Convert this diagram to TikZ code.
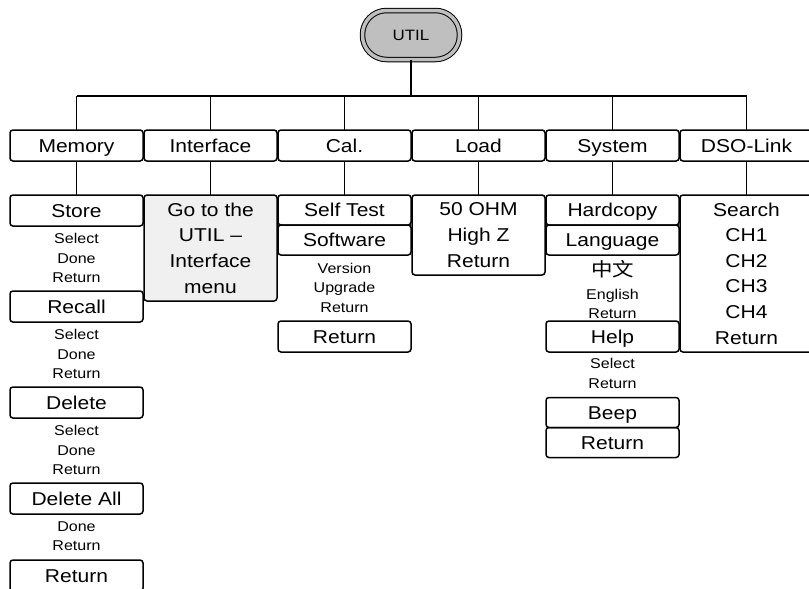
\documentclass[tikz,border=0pt]{standalone}
\usepackage{fontspec}
\setmainfont[FakeStretch=1.13]{Liberation Sans}
\newfontfamily\cjk[FakeStretch=1.13]{Noto Sans CJK SC}
\usetikzlibrary{positioning}

\begin{document}
\begin{tikzpicture}[
  x=1pt, y=-1pt,
  font=\fontsize{18.6}{25.6}\selectfont,
  util/.style={rectangle, rounded corners=24pt, draw, line width=1pt,
               double=gray!50, double distance=3.5pt, fill=gray!50,
               minimum width=97pt, minimum height=49pt,
               font=\fontsize{15}{18}\selectfont},
  panel/.style={rectangle, rounded corners=3pt, draw, line width=1.5pt,
                minimum width=133pt, minimum height=31pt, align=center,
                inner sep=0pt, outer sep=0pt},
  menu/.style={panel, text height=13.3pt, text depth=0pt},
  note/.style={align=center, inner sep=0pt,
               font=\fontsize{14.2}{19.5}\selectfont},
  link/.style={line width=1.6pt}
]
\useasboundingbox (0,0) rectangle (809,589);

\node[util] (util) at (411,35) {UTIL};
\coordinate (busL) at (76.5,96);
\coordinate (busR) at (746.5,96);

% first level
\node[menu] (memory)    at (76.5,145.5)  {Memory};
\node[menu] (interface) at (210.5,145.5) {Interface};
\node[menu] (cal)       at (344.5,145.5) {Cal.};
\node[menu] (load)      at (478.5,145.5) {Load};
\node[menu] (system)    at (612.5,145.5) {System};
\node[menu] (dsolink)   at (746.5,145.5) {DSO-Link};

% Memory
\node[menu] (store)        at (76.5,210.5) {Store};
\node[note] (storeopt)     at (76.5,258)   {Select\\Done\\Return};
\node[menu] (recall)       at (76.5,306.5) {Recall};
\node[note] (recallopt)    at (76.5,354)   {Select\\Done\\Return};
\node[menu] (delete)       at (76.5,402.5) {Delete};
\node[note] (deleteopt)    at (76.5,450)   {Select\\Done\\Return};
\node[menu] (deleteall)    at (76.5,498.5) {Delete All};
\node[note] (deleteallopt) at (76.5,536)   {Done\\Return};
\node[menu] (memret)       at (76.5,575.5) {Return};

% Interface
\node[panel, fill=gray!12, minimum height=106pt] (gotoutil) at (210.5,248)
  {Go to the\\UTIL --\\Interface\\menu};

% Cal.
\node[menu, minimum height=30pt] (selftest) at (344.5,210) {Self Test};
\node[menu, minimum height=30pt, below=0pt of selftest] (software) {Software};
\node[note] (softopt) at (344.5,287.5) {Version\\Upgrade\\Return};
\node[menu] (calret)  at (344.5,336.5) {Return};

% Load
\node[panel, minimum height=80pt] (loadopt) at (478.5,235)
  {50 OHM\\High Z\\Return};

% System
\node[menu, minimum height=30pt] (hardcopy) at (612.5,210) {Hardcopy};
\node[menu, minimum height=30pt, below=0pt of hardcopy] (language) {Language};
\node[note] (langopt) at (612.5,290)
  {{\cjk\fontsize{19}{19}\selectfont 中文}\\[3pt]English\\Return};
\node[menu] (help)    at (612.5,336.5) {Help};
\node[note] (helpopt) at (612.5,373.5) {Select\\Return};
\node[menu, minimum height=30pt] (beep) at (612.5,412.5) {Beep};
\node[menu, minimum height=30pt, below=0pt of beep] (sysret) {Return};

% DSO-Link
\node[panel, minimum height=157pt] (dsoopt) at (746.5,273.5)
  {Search\\CH1\\CH2\\CH3\\CH4\\Return};

% tree
\draw[link] (util) -- (util |- busL);
\draw[link] (busL) -- (busR);
\draw[link] (memory)    -- (memory |- busL);
\draw[link] (interface) -- (interface |- busL);
\draw[link] (cal)       -- (cal |- busL);
\draw[link] (load)      -- (load |- busL);
\draw[link] (system)    -- (system |- busL);
\draw[link] (dsolink)   -- (dsolink |- busL);
\draw[link] (memory)    -- (store);
\draw[link] (interface) -- (gotoutil);
\draw[link] (cal)       -- (selftest);
\draw[link] (load)      -- (loadopt);
\draw[link] (system)    -- (hardcopy);
\draw[link] (dsolink)   -- (dsoopt);
\end{tikzpicture}
\end{document}
